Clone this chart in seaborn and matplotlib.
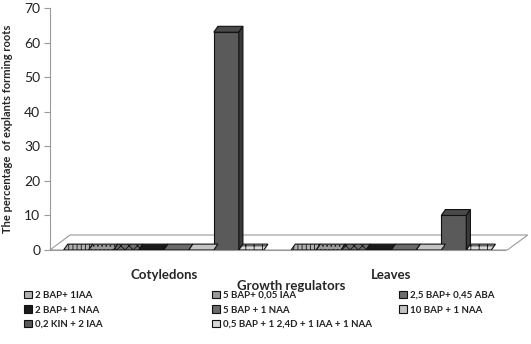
import matplotlib
matplotlib.use("Agg")
import matplotlib.pyplot as plt
import seaborn as sns
import pandas as pd
from matplotlib.patches import Polygon

organs = ["Cotyledons", "Leaves"]
treatments = ["2 BAP+ 1IAA", "5 BAP+ 0,05 IAA", "2,5 BAP+ 0,45 ABA",
              "2 BAP+ 1 NAA", "5 BAP + 1 NAA", "10 BAP + 1 NAA",
              "0,2 KIN + 2 IAA", "0,5 BAP + 1 2,4D + 1 IAA + 1 NAA"]
cotyledons = [0, 0, 0, 0, 0, 0, 63, 0]
leaves = [0, 0, 0, 0, 0, 0, 10, 0]
yticks = [0, 10, 20, 30, 40, 50, 60, 70]

colors = ["#b0b0b0", "#9a9a9a", "#6e6e6e", "#1a1a1a", "#6a6a6a", "#c4c4c4", "#5a5a5a", "#d8d8d8"]
hatches = ["||||", "....", "xxxx", "", "", "", "", "++"]

rows = []
for org, vals in zip(organs, [cotyledons, leaves]):
    for t, v in zip(treatments, vals):
        rows.append({"Organ": org, "Treatment": t, "Value": v})
df = pd.DataFrame(rows)

sns.set_style("white")
plt.rcParams["font.family"] = ["Lato", "DejaVu Sans"]
plt.rcParams["hatch.color"] = "#333333"
plt.rcParams["hatch.linewidth"] = 0.6

fig = plt.figure(figsize=(5.31, 3.44), dpi=100)
ax = fig.add_axes([50/531, 1-250/344, 455/531, 242/344])

sns.barplot(data=df, x="Organ", y="Value", hue="Treatment", hue_order=treatments,
            palette=colors, width=0.88, edgecolor="#111111", linewidth=0.8,
            ax=ax, legend=True)

ax.set_xlim(-0.5, 1.5)
ax.set_ylim(0, 70)

# pseudo-3D: top and side faces derived from each seaborn bar
dx, dy = 0.018, 1.7
for cont, h, col in zip(ax.containers, hatches, colors):
    for p in cont.patches:
        p.set_hatch(h)
        x0, w, hgt = p.get_x(), p.get_width(), p.get_height()
        top = Polygon([(x0, hgt), (x0 + dx, hgt + dy), (x0 + w + dx, hgt + dy), (x0 + w, hgt)],
                      closed=True, facecolor=col if hgt == 0 else "#4a4a4a",
                      hatch=h if hgt == 0 else "", edgecolor="#111111",
                      linewidth=0.8, zorder=3)
        ax.add_patch(top)
        if hgt > 0:
            side = Polygon([(x0 + w, 0), (x0 + w + dx, dy), (x0 + w + dx, hgt + dy), (x0 + w, hgt)],
                           closed=True, facecolor="#3a3a3a", edgecolor="#111111",
                           linewidth=0.8, zorder=3)
            ax.add_patch(side)

# floor (3D-like base)
floor = Polygon([(0.0, 0.0), (0.044, 0.062), (1.05, 0.062), (1.005, 0.0)],
                closed=True, transform=ax.transAxes, facecolor="none",
                edgecolor="#9a9a9a", linewidth=0.8, zorder=0.5, clip_on=False)
ax.add_patch(floor)

ax.set_yticks(yticks)
ax.tick_params(axis="y", labelsize=10, colors="#999999", length=4, width=0.8,
               direction="out", left=True, pad=3)
ax.tick_params(axis="y", labelcolor="#222222")
ax.tick_params(axis="x", labelsize=9.5, length=0, pad=14)
for lab in ax.get_xticklabels():
    lab.set_fontweight("bold")
for s in ["top", "right"]:
    ax.spines[s].set_visible(False)
ax.spines["left"].set_color("#999999")
ax.spines["bottom"].set_color("#999999")
ax.set_xlabel("Growth regulators", fontsize=9.5, fontweight="bold", labelpad=1)
ax.xaxis.set_label_coords(0.53, -0.125)
ax.set_ylabel("The percentage  of explants forming roots", fontsize=8,
              fontweight="bold")
ax.yaxis.set_label_coords(-0.082, 0.5)

handles, labels = ax.get_legend_handles_labels()
ax.get_legend().remove()
col_x = [24, 212, 399]
for c, x0 in enumerate(col_x):
    idx = [i for i in range(c, len(treatments), 3)]
    leg = fig.legend([handles[i] for i in idx], [labels[i] for i in idx],
                     loc="upper left", bbox_to_anchor=(x0/531, 1-291/344), ncol=1,
                     frameon=False, fontsize=7, handlelength=0.8, handleheight=0.8,
                     handletextpad=0.3, labelspacing=0.55,
                     borderaxespad=0, borderpad=0)
    for t in leg.get_texts():
        t.set_fontweight("bold")
        t.set_color("#222222")

fig.savefig("out.png", dpi=100)
